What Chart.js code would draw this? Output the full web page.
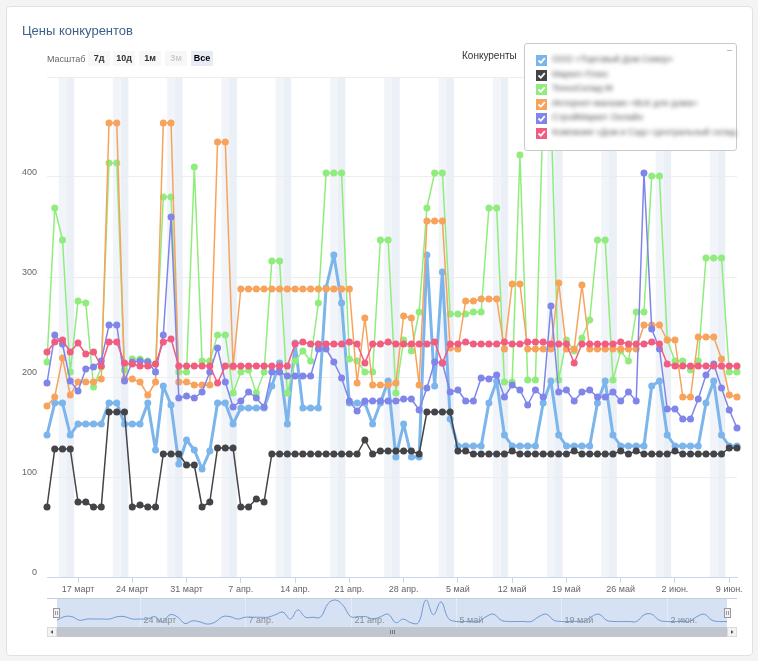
<!DOCTYPE html>
<html>
<head>
<meta charset="utf-8">
<script src="https://cdn.jsdelivr.net/npm/chart.js@4.4.1/dist/chart.umd.min.js"></script>
<style>
  html, body { margin: 0; padding: 0; width: 758px; height: 661px; overflow: hidden; background: #f4f4f4; font-family: "Liberation Sans", Arial, sans-serif; }
  #card { position: absolute; left: 6px; top: 6px; width: 745px; height: 648px; background: #fff; border: 1px solid #e1e1e1; border-radius: 4px; }
  canvas { position: absolute; }
  #main { left: 0; top: 0; }
  #nav { left: 47px; top: 597px; }
  .ov { position: absolute; z-index: 5; white-space: nowrap; }
  #title { left: 22px; top: 23px; font-size: 13px; color: #3f6189; }
  #zoomLbl { left: 47px; top: 54px; font-size: 9px; color: #666; }
  .btn { top: 51px; width: 22px; height: 15px; line-height: 15px; text-align: center; font-size: 9px; font-weight: bold; color: #333; background: #f7f7f7; }
  .btn.off { color: #ccc; }
  .btn.on { background: #e6ebf5; color: #000; }
  #legTitle { left: 462px; top: 50px; font-size: 10px; color: #333; }
  #legBox { left: 524px; top: 43px; width: 211px; height: 106px; background: #fff; border: 1px solid #c9c9c9; border-radius: 3px; }
  #legBox .dash { position: absolute; right: 4px; top: 1px; font-size: 9px; color: #999; }
  .chk { position: absolute; left: 11px; width: 11px; height: 11px; }
  .chk svg { display: block; }
  .nm { position: absolute; left: 27px; font-size: 9px; color: #555; filter: blur(2.2px); }
</style>
</head>
<body>
<div id="card"></div>
<canvas id="main" width="758" height="600"></canvas>
<canvas id="nav" width="690" height="42"></canvas>

<div class="ov" id="title">Цены конкурентов</div>
<div class="ov" id="zoomLbl">Масштаб</div>
<div class="ov btn" style="left:88px">7д</div>
<div class="ov btn" style="left:113px">10д</div>
<div class="ov btn" style="left:139px">1м</div>
<div class="ov btn off" style="left:165px">3м</div>
<div class="ov btn on" style="left:191px">Все</div>
<div class="ov" id="legTitle">Конкуренты</div>
<div class="ov" id="legBox"><span class="dash">–</span></div>

<script>
// 13 марта – 10 июня, по дням
const dayCount = 90;

const tickDays = [4, 11, 18, 25, 32, 39, 46, 53, 60, 67, 74, 81, 88];
const tickLabels = ["17 март", "24 март", "31 март", "7 апр.", "14 апр.", "21 апр.", "28 апр.",
  "5 май", "12 май", "19 май", "26 май", "2 июн.", "9 июн."];

const navDays = [11, 25, 39, 53, 67, 81];
const navLabels = ["24 март", "7 апр.", "21 апр.", "5 май", "19 май", "2 июн."];

// сб / вс
const weekendDays = [2, 3, 9, 10, 16, 17, 23, 24, 30, 31, 37, 38, 44, 45, 51, 52, 58, 59,
  65, 66, 72, 73, 79, 80, 86, 87];

const names = [
  "ООО «Торговый Дом Север»",
  "Маркет-Плюс",
  "ТехноСклад-М",
  "Интернет-магазин «Всё для дома»",
  "СтройМаркет Онлайн",
  "Компания «Дом и Сад» Центральный склад"
];
const colors = ["#7cb5ec", "#434348", "#90ed7d", "#f7a35c", "#8085e9", "#f15c80"];

const blue = [142, 174, 174, 142, 153, 153, 153, 153, 174, 174, 153, 153, 153, 174, 127, 191, 172, 113, 137, 127,
  108, 126, 174, 174, 153, 169, 169, 169, 169, 191, 214, 153, 234, 169, 169, 169, 289, 322, 274, 174,
  174, 174, 153, 174, 196, 120, 153, 120, 120, 322, 191, 305, 158, 131, 131, 131, 131, 174, 196, 142,
  131, 131, 131, 131, 174, 196, 142, 131, 131, 131, 131, 174, 196, 142, 131, 131, 131, 131, 191, 196,
  142, 131, 131, 131, 131, 174, 196, 142, 131, 131];

const black = [70, 128, 128, 128, 75, 75, 70, 70, 165, 165, 165, 70, 72, 70, 70, 123, 123, 123, 112, 112,
  70, 75, 129, 129, 129, 70, 70, 78, 75, 123, 123, 123, 123, 123, 123, 123, 123, 123, 123, 123,
  123, 137, 123, 126, 126, 126, 126, 126, 123, 165, 165, 165, 165, 126, 126, 123, 123, 123, 123, 123,
  126, 123, 123, 123, 123, 123, 123, 123, 126, 123, 123, 123, 123, 123, 126, 123, 126, 123, 123, 123,
  123, 126, 123, 123, 123, 123, 123, 123, 129, 129];

const green = [215, 369, 337, 205, 276, 274, 190, 210, 414, 414, 207, 218, 218, 216, 213, 380, 380, 205, 205, 410,
  216, 216, 242, 242, 184, 205, 207, 184, 205, 316, 316, 184, 216, 226, 216, 274, 404, 404, 404, 218,
  216, 205, 205, 337, 337, 184, 237, 226, 265, 369, 404, 404, 263, 263, 263, 265, 265, 369, 369, 195,
  195, 422, 197, 197, 470, 470, 197, 237, 226, 239, 257, 337, 337, 197, 226, 216, 265, 265, 401, 401,
  237, 216, 216, 207, 216, 319, 319, 319, 205, 205];

const orange = [171, 180, 219, 182, 195, 195, 195, 198, 454, 454, 198, 198, 195, 182, 195, 454, 454, 195, 195, 192,
  192, 192, 435, 435, 210, 288, 288, 288, 288, 288, 288, 288, 288, 288, 288, 288, 288, 288, 288, 288,
  194, 259, 192, 192, 192, 194, 261, 259, 192, 356, 356, 356, 229, 228, 276, 276, 278, 278, 278, 228,
  293, 293, 228, 228, 228, 228, 294, 228, 228, 292, 228, 228, 228, 228, 228, 228, 228, 252, 252, 252,
  237, 237, 180, 180, 240, 240, 240, 218, 182, 180];

const purple = [194, 242, 233, 196, 186, 208, 210, 216, 252, 252, 196, 215, 216, 215, 205, 242, 360, 179, 181, 179,
  185, 205, 229, 195, 170, 176, 185, 179, 170, 205, 205, 201, 201, 201, 201, 228, 228, 215, 199, 176,
  166, 176, 176, 176, 176, 176, 178, 178, 167, 189, 215, 214, 185, 187, 176, 176, 199, 198, 202, 180,
  192, 187, 172, 187, 180, 271, 185, 187, 176, 185, 187, 180, 180, 185, 176, 185, 176, 404, 248, 228,
  168, 168, 158, 158, 178, 202, 213, 189, 167, 149];

const red = [225, 235, 237, 225, 234, 223, 225, 211, 235, 235, 214, 213, 211, 211, 213, 235, 238, 211, 211, 211,
  211, 211, 194, 211, 211, 211, 211, 211, 211, 211, 211, 211, 233, 235, 233, 233, 233, 233, 233, 235,
  233, 214, 233, 233, 235, 233, 233, 233, 233, 233, 235, 214, 233, 233, 235, 233, 233, 233, 233, 235,
  233, 233, 235, 235, 235, 233, 233, 233, 214, 233, 233, 233, 233, 233, 235, 233, 233, 233, 235, 233,
  213, 211, 211, 211, 211, 211, 211, 211, 211, 211];

const series = [blue, black, green, orange, purple, red];
const font = "'Liberation Sans', Arial, sans-serif";
const toXY = arr => arr.map((v, i) => ({ x: i, y: v }));

// легенда (названия размыты)
const legBox = document.getElementById("legBox");
names.forEach((n, k) => {
  const top = 11 + k * 14.5;
  legBox.insertAdjacentHTML("beforeend",
    `<div class="chk" style="top:${top}px;background:${colors[k]}">
       <svg width="11" height="11"><path d="M2.5 5.5 L4.8 7.8 L8.8 3.2" stroke="#fff" stroke-width="1.8" fill="none"/></svg>
     </div>
     <div class="nm" style="top:${top - 1}px">${n}</div>`);
});

const weekendBands = {
  id: "weekendBands",
  beforeDraw(chart) {
    const { ctx, chartArea: a, scales: { x } } = chart;
    ctx.save();
    weekendDays.forEach((d, k) => {
      const x0 = x.getPixelForValue(d - 0.5);
      const x1 = x.getPixelForValue(d + 0.5);
      ctx.fillStyle = k % 2 ? "#ebf0f7" : "#f1f4f9";
      ctx.fillRect(x0, a.top, x1 - x0, a.bottom - a.top);
    });
    ctx.restore();
  }
};

new Chart(document.getElementById("main"), {
  type: "line",
  data: {
    datasets: series.map((arr, k) => ({
      label: names[k],
      data: toXY(arr),
      borderColor: colors[k],
      backgroundColor: colors[k],
      pointBackgroundColor: colors[k],
      borderWidth: k === 0 ? 3 : 1.5,
      borderJoinStyle: "round",
      borderCapStyle: "round",
      pointRadius: 3.5,
      pointBorderWidth: 0,
      tension: 0,
      order: series.length - k,
      clip: 8
    }))
  },
  options: {
    responsive: false,
    animation: false,
    devicePixelRatio: 1,
    layout: { autoPadding: false, padding: { left: 17, right: 21, top: 77, bottom: 5 } },
    plugins: { legend: { display: false }, tooltip: { enabled: false } },
    scales: {
      x: {
        type: "linear",
        min: 0,
        max: dayCount - 1,
        afterBuildTicks: s => { s.ticks = tickDays.map(v => ({ value: v })); },
        afterFit: s => { s.height = 18; },
        grid: { drawOnChartArea: false, drawTicks: true, tickLength: 6, color: "#ccd6eb" },
        border: { color: "#ccd6eb" },
        ticks: {
          autoSkip: false, maxRotation: 0, padding: 1, color: "#666",
          font: { size: 9, family: font },
          callback: v => tickLabels[tickDays.indexOf(v)] ?? ""
        }
      },
      y: {
        min: 0,
        max: 500,
        afterFit: s => { s.width = 30; },
        grid: { color: "#ededed", drawTicks: false },
        border: { display: false },
        ticks: {
          stepSize: 100, padding: 10, labelOffset: -4, color: "#666",
          font: { size: 9, family: font },
          callback: v => (v === 500 ? "" : v)
        }
      }
    }
  },
  plugins: [weekendBands]
});

// навигатор снизу
const navigatorDecor = {
  id: "navigatorDecor",
  beforeDraw(chart) {
    const { ctx, chartArea: a, scales: { x } } = chart;
    ctx.save();
    ctx.fillStyle = "#d6e2f4";
    ctx.fillRect(a.left, a.top, a.right - a.left, a.bottom - a.top);
    ctx.strokeStyle = "#c6cdd8";
    ctx.lineWidth = 1;
    ctx.beginPath();
    ctx.moveTo(0, a.top + 0.5);
    ctx.lineTo(chart.width, a.top + 0.5);
    ctx.stroke();
    ctx.strokeStyle = "#e6ecf6";
    ctx.fillStyle = "#8a8a8a";
    ctx.font = "9px " + font;
    ctx.textBaseline = "middle";
    navDays.forEach((d, k) => {
      const px = Math.round(x.getPixelForValue(d)) + 0.5;
      ctx.beginPath();
      ctx.moveTo(px, a.top);
      ctx.lineTo(px, a.bottom);
      ctx.stroke();
      ctx.fillText(navLabels[k], px + 3, a.bottom - 6);
    });
    ctx.restore();
  },
  afterDraw(chart) {
    const { ctx, chartArea: a } = chart;
    ctx.save();
    // полоса прокрутки
    const sy = a.bottom;
    ctx.fillStyle = "#f2f2f2";
    ctx.fillRect(0, sy, chart.width, 10);
    ctx.fillStyle = "#bfc6cf";
    ctx.fillRect(a.left, sy, a.right - a.left, 10);
    ctx.strokeStyle = "#dcdcdc";
    ctx.strokeRect(0.5, sy + 0.5, a.left - 1, 9);
    ctx.strokeRect(a.right + 0.5, sy + 0.5, chart.width - a.right - 1, 9);
    ctx.fillStyle = "#555";
    ctx.beginPath();
    ctx.moveTo(3.5, sy + 5); ctx.lineTo(6, sy + 3); ctx.lineTo(6, sy + 7); ctx.closePath(); ctx.fill();
    const rx = chart.width - 5;
    ctx.beginPath();
    ctx.moveTo(rx + 1.5, sy + 5); ctx.lineTo(rx - 1, sy + 3); ctx.lineTo(rx - 1, sy + 7); ctx.closePath(); ctx.fill();
    const cx = (a.left + a.right) / 2;
    ctx.strokeStyle = "#777";
    [-2, 0, 2].forEach(o => {
      ctx.beginPath();
      ctx.moveTo(Math.round(cx + o) + 0.5, sy + 3);
      ctx.lineTo(Math.round(cx + o) + 0.5, sy + 7);
      ctx.stroke();
    });
    // ручки
    [a.left - 1, a.right].forEach(hx => {
      ctx.fillStyle = "#f2f2f2";
      ctx.strokeStyle = "#999";
      ctx.fillRect(hx - 3, a.top + 10, 7, 10);
      ctx.strokeRect(hx - 2.5, a.top + 10.5, 6, 9);
      ctx.beginPath();
      ctx.moveTo(hx - 0.5, a.top + 13); ctx.lineTo(hx - 0.5, a.top + 17);
      ctx.moveTo(hx + 1.5, a.top + 13); ctx.lineTo(hx + 1.5, a.top + 17);
      ctx.stroke();
    });
    ctx.restore();
  }
};

new Chart(document.getElementById("nav"), {
  type: "line",
  data: {
    datasets: [{
      data: toXY(blue),
      borderColor: "#6f98d0",
      borderWidth: 1,
      pointRadius: 0,
      tension: 0.4,
      fill: false
    }]
  },
  options: {
    responsive: false,
    animation: false,
    devicePixelRatio: 1,
    layout: { autoPadding: false, padding: { left: 10, right: 10, top: 1, bottom: 12 } },
    plugins: { legend: { display: false }, tooltip: { enabled: false } },
    scales: {
      x: { type: "linear", display: false, min: 0, max: dayCount - 1 },
      y: { display: false, min: 82, max: 340 }
    }
  },
  plugins: [navigatorDecor]
});
</script>
</body>
</html>
